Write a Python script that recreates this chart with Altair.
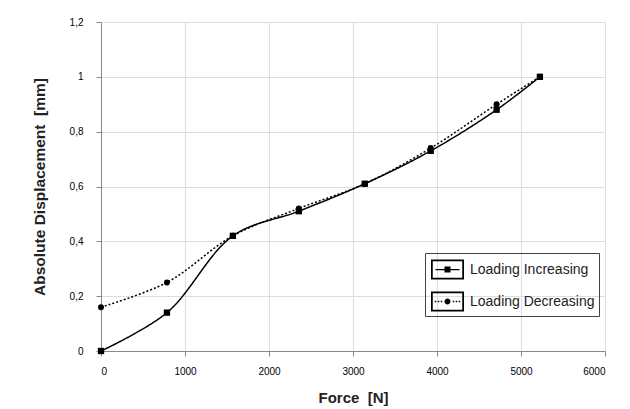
import altair as alt
import pandas as pd

force = [0, 785, 1570, 2355, 3140, 3925, 4710, 5225]
disp_increasing = [0.0, 0.14, 0.42, 0.51, 0.61, 0.73, 0.88, 1.0]
disp_decreasing = [0.16, 0.25, 0.42, 0.52, 0.61, 0.74, 0.90, 1.0]
series_names = ["Loading Increasing", "Loading Decreasing"]
x_ticks = [0, 1000, 2000, 3000, 4000, 5000, 6000]
y_ticks = [0, 0.2, 0.4, 0.6, 0.8, 1.0, 1.2]

rows = []
for f, v in zip(force, disp_increasing):
    rows.append({"Force": f, "Disp": v, "Series": series_names[0]})
for f, v in zip(force, disp_decreasing):
    rows.append({"Force": f, "Disp": v, "Series": series_names[1]})
df = pd.DataFrame(rows)

FONT = "Carlito, Lato, Open Sans, sans-serif"

# legend icons (filled paths only): framed box + line + marker
def rect(x0, y0, x1, y1, cw=True):
    if cw:
        return f"M{x0},{y0}H{x1}V{y1}H{x0}Z "
    return f"M{x0},{y0}V{y1}H{x1}V{y0}Z "

FRAME = rect(-1.32, -0.8, 1.32, 0.8) + rect(-1.18, -0.66, 1.18, 0.66, cw=False)
SOLID_LINE = rect(-0.96, -0.05, -0.24, 0.05) + rect(0.24, -0.05, 0.96, 0.05)
DOTS = ""
for i in range(9):
    if 3 <= i <= 5:
        continue
    cx = -0.96 + i * 0.24
    DOTS += rect(round(cx - 0.06, 3), -0.06, round(cx + 0.06, 3), 0.06)
SQUARE = rect(-0.24, -0.24, 0.24, 0.24)
CIRCLE = "M-0.24,0A0.24,0.24 0 1,1 0.24,0A0.24,0.24 0 1,1 -0.24,0Z"
ICON_INC = FRAME + SOLID_LINE + SQUARE
ICON_DEC = FRAME + DOTS + CIRCLE

x = alt.X("Force:Q", scale=alt.Scale(domain=[0, 6000], nice=False),
          axis=alt.Axis(values=x_ticks, title="Force\u00a0\u00a0[N]", format="d",
                        titleFontWeight="bold", titleFontSize=15, titleColor="#222222",
                        titlePadding=14, labelPadding=10))
y = alt.Y("Disp:Q", scale=alt.Scale(domain=[0, 1.2], nice=False),
          axis=alt.Axis(values=y_ticks, title="Absolute Displacement\u00a0\u00a0[mm]",
                        labelExpr="replace(format(datum.value, ''), '.', ',')",
                        titleFontWeight="bold", titleFontSize=15.5, titleColor="#222222",
                        titlePadding=22, labelPadding=13))

dash_scale = alt.Scale(domain=series_names, range=[[1, 0], [2, 2]])

def leg():
    return alt.Legend(title=None, orient="none", legendX=324, legendY=231,
                      strokeColor="#444444", padding=4, rowPadding=9,
                      labelFontSize=14, labelColor="#222222", labelOffset=10,
                      symbolOffset=6, symbolStrokeWidth=0, symbolSize=625, symbolOpacity=1,
                      symbolStrokeColor="black", symbolFillColor="black")

lines = alt.Chart(df).mark_line(interpolate="catmull-rom", strokeWidth=1.5, color="black").encode(
    x=x, y=y, strokeDash=alt.StrokeDash("Series:N", scale=dash_scale, legend=leg()), detail="Series:N")

squares = alt.Chart(df).transform_filter(
    alt.datum.Series == series_names[0]
).mark_square(size=40, color="black", opacity=1).encode(x=x, y=y)
circles = alt.Chart(df).transform_filter(
    alt.datum.Series == series_names[1]
).mark_circle(size=36, color="black", opacity=1).encode(x=x, y=y)

legend_layer = alt.Chart(df).mark_point(filled=True, color="black", size=0).encode(
    x=x, y=y,
    shape=alt.Shape("Series:N", scale=alt.Scale(domain=series_names, range=[ICON_INC, ICON_DEC]),
                    legend=leg()),
    strokeDash=alt.StrokeDash("Series:N", scale=dash_scale, legend=leg()),
)

chart = alt.layer(lines, squares, circles, legend_layer).properties(
    width=504, height=329,
    autosize=alt.AutoSizeParams(type="none"),
    padding={"left": 101, "top": 22, "right": 25, "bottom": 58},
).configure_view(stroke="#d9d9d9").configure_axis(
    grid=True, gridColor="#d9d9d9", domain=False, ticks=False,
    labelFont=FONT, titleFont=FONT, labelFontSize=12, labelColor="#555555",
).configure_legend(labelFont=FONT).configure(background="white")

chart.save("out.html", embed_options={"renderer": "svg", "actions": False})
